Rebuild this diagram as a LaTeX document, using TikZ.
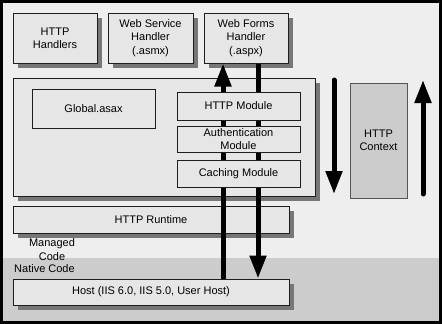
\documentclass[tikz,border=0pt]{standalone}
\usepackage{fontspec}
\setmainfont{Liberation Sans}
\usetikzlibrary{arrows.meta}
\definecolor{bg}{HTML}{EEEEEE}
\definecolor{lowbg}{HTML}{CCCCCC}
\definecolor{boxfill}{HTML}{E6E6E6}
\definecolor{shadowc}{HTML}{777777}
\definecolor{edgec}{HTML}{1E1E1E}
\tikzset{
  flatbox/.style={draw=edgec, line width=1pt, fill=boxfill, inner sep=0pt, align=center,
    font=\fontsize{11}{13.3}\selectfont},
  shadowbox/.style={fill=shadowc, draw=none, inner sep=0pt},
  ctxbox/.style={draw=edgec!75, line width=1pt, fill=lowbg, inner sep=0pt, align=center,
    font=\fontsize{11}{13.3}\selectfont},
  lbl/.style={inner sep=0pt, align=center, font=\fontsize{11}{13.3}\selectfont},
  flow/.style={line width=5pt, line cap=round, -{Triangle[width=16pt,length=23pt]}},
}
\begin{document}
\begin{tikzpicture}[x=1pt,y=-1pt]
\useasboundingbox (0,0) rectangle (442,324);
\fill[bg] (0,0) rectangle (442,324);
\fill[lowbg] (0,258) rectangle (442,324);
% shadows (drawn first, offset 5 right and 5 down)
\node[shadowbox, minimum width=84pt, minimum height=50pt] (hhs) at (60,43) {};
\node[shadowbox, minimum width=85pt, minimum height=50pt] (wss) at (155.5,43) {};
\node[shadowbox, minimum width=84pt, minimum height=50pt] (wfs) at (251,43) {};
\node[shadowbox, minimum width=302pt, minimum height=118pt] (apps) at (169,142) {};
\node[shadowbox, minimum width=276pt, minimum height=27pt] (rts) at (156,224.5) {};
\node[shadowbox, minimum width=276pt, minimum height=26pt] (hosts) at (156,297) {};
% top handlers
\node[flatbox, minimum width=84pt, minimum height=50pt] (hh) at (55,38) {HTTP\\Handlers};
\node[flatbox, minimum width=85pt, minimum height=50pt] (ws) at (150.5,38) {Web Service\\Handler\\(.asmx)};
\node[flatbox, minimum width=84pt, minimum height=50pt] (wf) at (246,38) {Web Forms\\Handler\\(.aspx)};
% container
\node[flatbox, minimum width=302pt, minimum height=118pt] (app) at (164,137) {};
\node[flatbox, minimum width=123pt, minimum height=39pt] (glob) at (93.5,108.5) {Global.asax};
% runtime and host
\node[flatbox, minimum width=276pt, minimum height=27pt] (rt) at (151,219.5) {HTTP Runtime};
\node[flatbox, minimum width=276pt, minimum height=26pt] (host) at (151,292) {Host (IIS 6.0, IIS 5.0, User Host)};
% request / response arrows
\coordinate (upx) at (223,0);
\coordinate (dnx) at (258,0);
\draw[flow, line cap=butt] (host.north -| upx) -- (wf.south -| upx);
\draw[flow, line cap=butt] (wf.south -| dnx) -- (host.north -| dnx);
% modules (drawn over the arrows)
\node[flatbox, minimum width=123pt, minimum height=28pt] (mod) at (238.5,106) {HTTP Module};
\node[flatbox, minimum width=123pt, minimum height=26pt] (auth) at (238.5,139) {Authentication\\Module};
\node[flatbox, minimum width=123pt, minimum height=27pt] (cache) at (238.5,173.5) {Caching Module};
% context
\node[ctxbox, minimum width=57pt, minimum height=115pt] (ctx) at (378.5,140.5) {HTTP\\Context};
% labels
\node[lbl] (mc) at (52,249.5) {Managed\\Code};
\node[lbl, anchor=west] (nc) at (14,269) {Native Code};
% context arrows
\coordinate (cd1) at (334,80);
\coordinate (cd2) at (334,194);
\coordinate (cu1) at (423,194);
\coordinate (cu2) at (423,80);
\draw[flow] (cd1) -- (cd2);
\draw[flow] (cu1) -- (cu2);
% frame
\draw[black, line width=3pt] (1.5,1.5) rectangle (440.5,322.5);
\end{tikzpicture}
\end{document}
